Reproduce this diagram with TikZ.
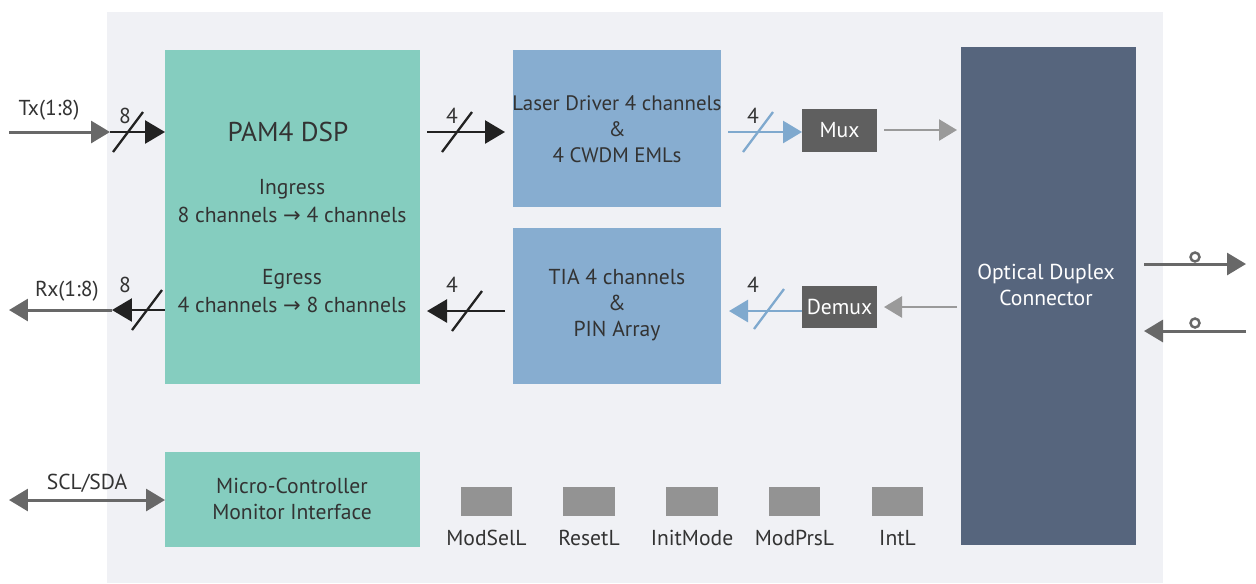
\documentclass[tikz,border=0pt]{standalone}
\usepackage{fontspec}
\setmainfont{PT Sans}
\newfontfamily\arrowfont{DejaVu Sans}
\usetikzlibrary{arrows.meta}
\definecolor{bgc}{HTML}{F0F1F5}
\definecolor{tealc}{HTML}{85CDBF}
\definecolor{bluec}{HTML}{87ADD0}
\definecolor{muxc}{HTML}{5F5F5F}
\definecolor{connc}{HTML}{56657D}
\definecolor{sqc}{HTML}{939393}
\definecolor{garr}{HTML}{686868}
\definecolor{larr}{HTML}{9A9A9A}
\definecolor{barr}{HTML}{7FA9CE}
\definecolor{karr}{HTML}{222222}
\definecolor{txtc}{HTML}{333333}
\tikzset{
  blk/.style={draw=none, inner sep=0pt, outer sep=0pt},
  lbl/.style={text=txtc, inner sep=0pt, font=\fontsize{12.3}{14.7}\selectfont, align=center},
  wlbl/.style={text=white, inner sep=0pt, font=\fontsize{12.3}{14.7}\selectfont, align=center},
  gline/.style={draw=garr, line width=1.7pt, -{Triangle[length=0.38cm,width=0.44cm]}},
  lline/.style={draw=larr, line width=1.5pt, -{Triangle[length=0.36cm,width=0.42cm]}},
  kline/.style={draw=karr, line width=1.5pt, -{Triangle[length=0.40cm,width=0.46cm]}},
  bline/.style={draw=barr, line width=1.5pt, -{Triangle[length=0.38cm,width=0.44cm]}},
  kslash/.style={draw=karr, line width=1.3pt},
  bslash/.style={draw=barr, line width=1.3pt},
}
\newcommand{\rarr}{{\arrowfont\fontsize{12}{14}\selectfont →}}
\begin{document}
\begin{tikzpicture}[x=0.02cm,y=-0.02cm]
\useasboundingbox (0,0) rectangle (1256,583);
\fill[bgc] (107,12) rectangle (1163,583);

% blocks
\node[blk, fill=tealc, minimum width=5.10cm, minimum height=6.68cm] (dsp) at (292.5,217) {};
\node[blk, fill=bluec, minimum width=4.16cm, minimum height=3.14cm] (laser) at (617,128.5) {};
\node[blk, fill=bluec, minimum width=4.16cm, minimum height=3.12cm] (tia) at (617,306) {};
\node[blk, fill=muxc, minimum width=1.50cm, minimum height=0.86cm, text=white, font=\fontsize{12.3}{14.7}\selectfont] (mux) at (839.5,130.5) {Mux};
\node[blk, fill=muxc, minimum width=1.50cm, minimum height=0.84cm, text=white, font=\fontsize{12.3}{14.7}\selectfont] (demux) at (839.5,307) {Demux};
\node[blk, fill=connc, minimum width=3.50cm, minimum height=9.96cm] (conn) at (1048.5,296) {};
\node[blk, fill=tealc, minimum width=5.10cm, minimum height=1.90cm] (mcu) at (292.5,499.5) {};

% block texts
\node[lbl, font=\fontsize{15.5}{18}\selectfont] (dsptitle) at (288,132) {PAM4 DSP};
\node[lbl] (ingress) at (292,189) {Ingress};
\node[lbl] (ingch) at (292,215) {8 channels \rarr{} 4 channels};
\node[lbl] (egress) at (292,279) {Egress};
\node[lbl] (egch) at (292,305) {4 channels \rarr{} 8 channels};
\node[lbl, font=\fontsize{11.9}{14.7}\selectfont] (lasert) at (617,129) {Laser Driver 4 channels\\\&\\4 CWDM EMLs};
\node[lbl] (tiat) at (617,305) {TIA 4 channels\\\&\\PIN Array};
\node[wlbl] (connt) at (1046,285) {Optical Duplex\\Connector};
\node[lbl] (mcut) at (292,499) {Micro-Controller\\Monitor Interface};

% status pins
\foreach \xx/\nm/\tx in {486.5/p1/ModSelL, 589/p2/ResetL, 692/p3/InitMode, 794.5/p4/ModPrsL, 897.5/p5/IntL}{
  \node[blk, fill=sqc, minimum width=1.03cm, minimum height=0.58cm] (\nm) at (\xx,501.5) {};
  \node[lbl, anchor=north] (\nm l) at (\xx,530) {\tx};
}

% Tx
\coordinate (txin) at (9,132);
\coordinate (txmid) at (110,132);
\draw[gline] (txin) -- (txmid);
\draw[kline] (txmid) -- (dsp.west |- txmid);
\draw[kslash] (128,132) ++(-15,20) -- ++(30,-40);
\node[lbl] (tx8) at (125,116) {8};
\node[lbl] (txl) at (49,110) {Tx(1:8)};

% Rx
\coordinate (rxout) at (9,310);
\coordinate (rxmid) at (112,310);
\draw[kline] (dsp.west |- rxmid) -- (rxmid);
\draw[gline] (rxmid) -- (rxout);
\draw[kslash] (147,310) ++(-15,20) -- ++(30,-40);
\node[lbl] (rx8) at (125,285) {8};
\node[lbl] (rxl) at (67,291) {Rx(1:8)};

% DSP <-> laser / TIA
\coordinate (a1) at (427,132);
\coordinate (a2) at (505,132);
\draw[kline] (a1) -- (a2);
\draw[kslash] (457,132) ++(-15,20) -- ++(30,-40);
\node[lbl] (n4a) at (452,116) {4};
\coordinate (b1) at (505,311);
\coordinate (b2) at (427,311);
\draw[kline] (b1) -- (b2);
\draw[kslash] (467,311) ++(-15,20) -- ++(30,-40);
\node[lbl] (n4b) at (452,285) {4};

% laser -> mux, demux -> TIA
\coordinate (c1) at (728,132);
\draw[bline] (c1) -- (mux.west |- c1);
\draw[bslash] (758,132) ++(-15,20) -- ++(30,-40);
\node[lbl] (n4c) at (753,116) {4};
\coordinate (d1) at (729,311);
\draw[bline] (demux.west |- d1) -- (d1);
\draw[bslash] (769,309) ++(-15,20) -- ++(30,-40);
\node[lbl] (n4d) at (753,285) {4};

% mux -> conn, conn -> demux
\coordinate (e1) at (884,130);
\coordinate (e2) at (957,130);
\draw[lline] (e1) -- (e2);
\coordinate (f1) at (957,307);
\coordinate (f2) at (884,307);
\draw[lline] (f1) -- (f2);

% fibre outputs
\coordinate (o1) at (1144,264);
\coordinate (o2) at (1246,264);
\draw[gline] (o1) -- (o2);
\draw[garr, line width=1.4pt, fill=white] (1195,257) circle[radius=0.09cm];
\coordinate (i1) at (1246,331);
\coordinate (i2) at (1144,331);
\draw[gline] (i1) -- (i2);
\draw[garr, line width=1.4pt, fill=white] (1195,323) circle[radius=0.09cm];

% SCL/SDA
\coordinate (s1) at (9,500);
\draw[gline, {Triangle[length=0.38cm,width=0.44cm]}-{Triangle[length=0.38cm,width=0.44cm]}] (s1) -- (mcu.west |- s1);
\node[lbl] (sl) at (87,483) {SCL/SDA};
\end{tikzpicture}
\end{document}
